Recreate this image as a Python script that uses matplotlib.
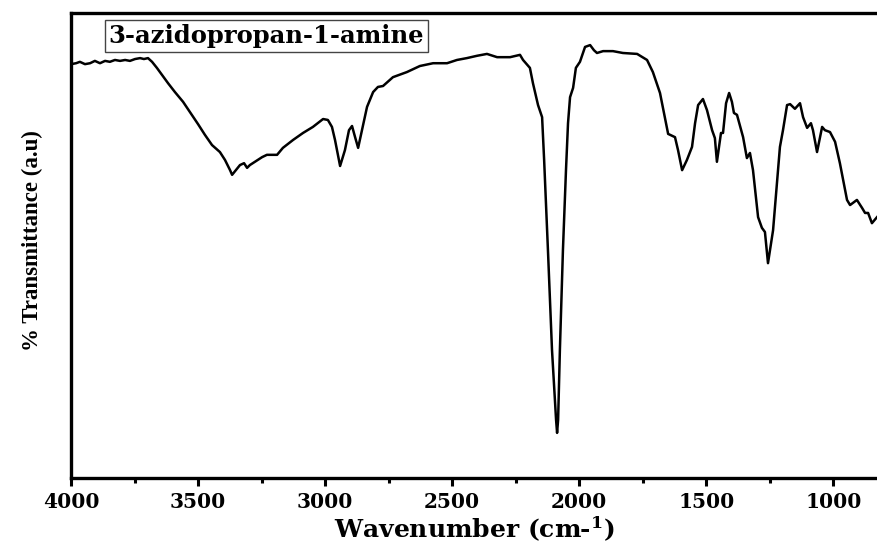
import matplotlib
matplotlib.use("Agg")
import matplotlib.pyplot as plt
from matplotlib.ticker import MultipleLocator

# FTIR spectrum of 3-azidopropan-1-amine
wavenumber = [4000, 3980, 3965, 3945, 3925, 3906, 3886, 3866, 3847, 3827, 3807, 3787, 3768,
              3748, 3728, 3713, 3697, 3681, 3662, 3642, 3618, 3591, 3559, 3532, 3500, 3473,
              3445, 3414, 3394, 3374, 3366, 3351, 3335, 3319, 3307, 3296, 3276, 3248, 3229,
              3189, 3166, 3126, 3087, 3048, 3008, 2989, 2973, 2961, 2941, 2922, 2906, 2894,
              2882, 2870, 2855, 2835, 2811, 2792, 2772, 2733, 2678, 2627, 2575, 2520, 2481,
              2442, 2402, 2363, 2323, 2272, 2233, 2221, 2194, 2182, 2162, 2146, 2138, 2123,
              2107, 2091, 2087, 2083, 2076, 2064, 2052, 2044, 2036, 2024, 2013, 1997, 1977,
              1957, 1942, 1930, 1906, 1867, 1828, 1772, 1733, 1710, 1682, 1650, 1623, 1611,
              1595, 1576, 1556, 1544, 1532, 1513, 1497, 1477, 1466, 1458, 1442, 1434, 1422,
              1410, 1399, 1391, 1379, 1355, 1340, 1328, 1316, 1296, 1281, 1269, 1257, 1237,
              1222, 1210, 1198, 1182, 1170, 1151, 1131, 1119, 1103, 1088, 1080, 1064, 1044,
              1033, 1013, 993, 974, 946, 934, 907, 887, 875, 863, 848, 828]
transmittance = [89.0, 89.2, 89.5, 89.0, 89.2, 89.7, 89.2, 89.7, 89.5, 89.9, 89.7, 89.9, 89.7,
                 90.1, 90.3, 90.1, 90.3, 89.5, 88.2, 86.7, 84.9, 83.0, 80.9, 78.7, 76.1, 73.8,
                 71.6, 70.1, 68.4, 66.2, 65.2, 66.2, 67.3, 67.7, 66.7, 67.3, 68.0, 69.0, 69.5,
                 69.5, 71.0, 72.7, 74.2, 75.5, 77.2, 77.0, 75.5, 72.7, 67.1, 70.5, 74.8, 75.7,
                 73.3, 71.0, 74.8, 79.8, 83.0, 84.1, 84.3, 86.2, 87.3, 88.6, 89.2, 89.2, 89.9,
                 90.3, 90.8, 91.2, 90.5, 90.5, 91.0, 89.9, 88.2, 84.9, 80.2, 77.6, 68.4, 49.0,
                 27.5, 12.5, 9.7, 12.5, 27.5, 49.0, 66.2, 76.3, 81.9, 83.9, 88.2, 89.5, 92.7,
                 93.1, 92.0, 91.4, 91.8, 91.8, 91.4, 91.2, 89.9, 87.3, 82.8, 74.0, 73.3, 70.5,
                 66.2, 68.4, 71.2, 76.3, 80.2, 81.5, 79.1, 74.8, 73.1, 68.0, 74.2, 74.2, 80.6,
                 82.8, 80.9, 78.5, 78.1, 73.3, 68.8, 69.9, 66.2, 56.1, 53.8, 52.9, 46.2, 53.3,
                 63.4, 71.2, 74.8, 80.2, 80.4, 79.4, 80.6, 77.6, 75.3, 76.3, 74.8, 70.1, 75.5,
                 74.8, 74.4, 72.3, 67.7, 59.8, 58.7, 59.8, 58.1, 57.0, 57.0, 54.8, 56.1]
x_ticks = [4000, 3500, 3000, 2500, 2000, 1500, 1000]
sample_name = "3-azidopropan-1-amine"

plt.rcParams['mathtext.fontset'] = 'dejavuserif'

fig = plt.figure(figsize=(8.77, 5.48), dpi=100)
ax = fig.add_axes([71/877, 70/548, 806/877, 465/548])

ax.plot(wavenumber, transmittance, color='black', lw=1.8)

ax.set_xlim(4000, 828)
ax.set_ylim(0, 100)

ax.set_xticks(x_ticks)
ax.xaxis.set_minor_locator(MultipleLocator(250))
ax.set_yticks([])
for lab in ax.get_xticklabels():
    lab.set_fontfamily('DejaVu Serif')
    lab.set_fontweight('bold')
    lab.set_fontsize(14.5)
ax.tick_params(axis='x', which='major', length=6, width=2.2, direction='out', pad=4)
ax.tick_params(axis='x', which='minor', length=3.5, width=2.2, direction='out')

for side in ['left', 'top', 'bottom']:
    ax.spines[side].set_linewidth(2.4)
ax.spines['right'].set_visible(False)

ax.set_xlabel(r"Wavenumber (cm-$^{\mathbf{1}}$)", fontfamily='DejaVu Serif',
              fontweight='bold', fontsize=18, labelpad=2)
ax.set_ylabel("% Transmittance (a.u)", fontfamily='Liberation Serif',
              fontweight='bold', fontsize=16.5)
ax.yaxis.set_label_coords(-0.035, 0.51)

ax.text(0.2426, 0.9505, sample_name, transform=ax.transAxes, ha='center', va='center',
        fontfamily='DejaVu Serif', fontweight='bold', fontsize=17.5,
        bbox=dict(boxstyle='square,pad=0.15', facecolor='white', edgecolor='#444444', lw=1))

fig.savefig("out.png", dpi=100)
